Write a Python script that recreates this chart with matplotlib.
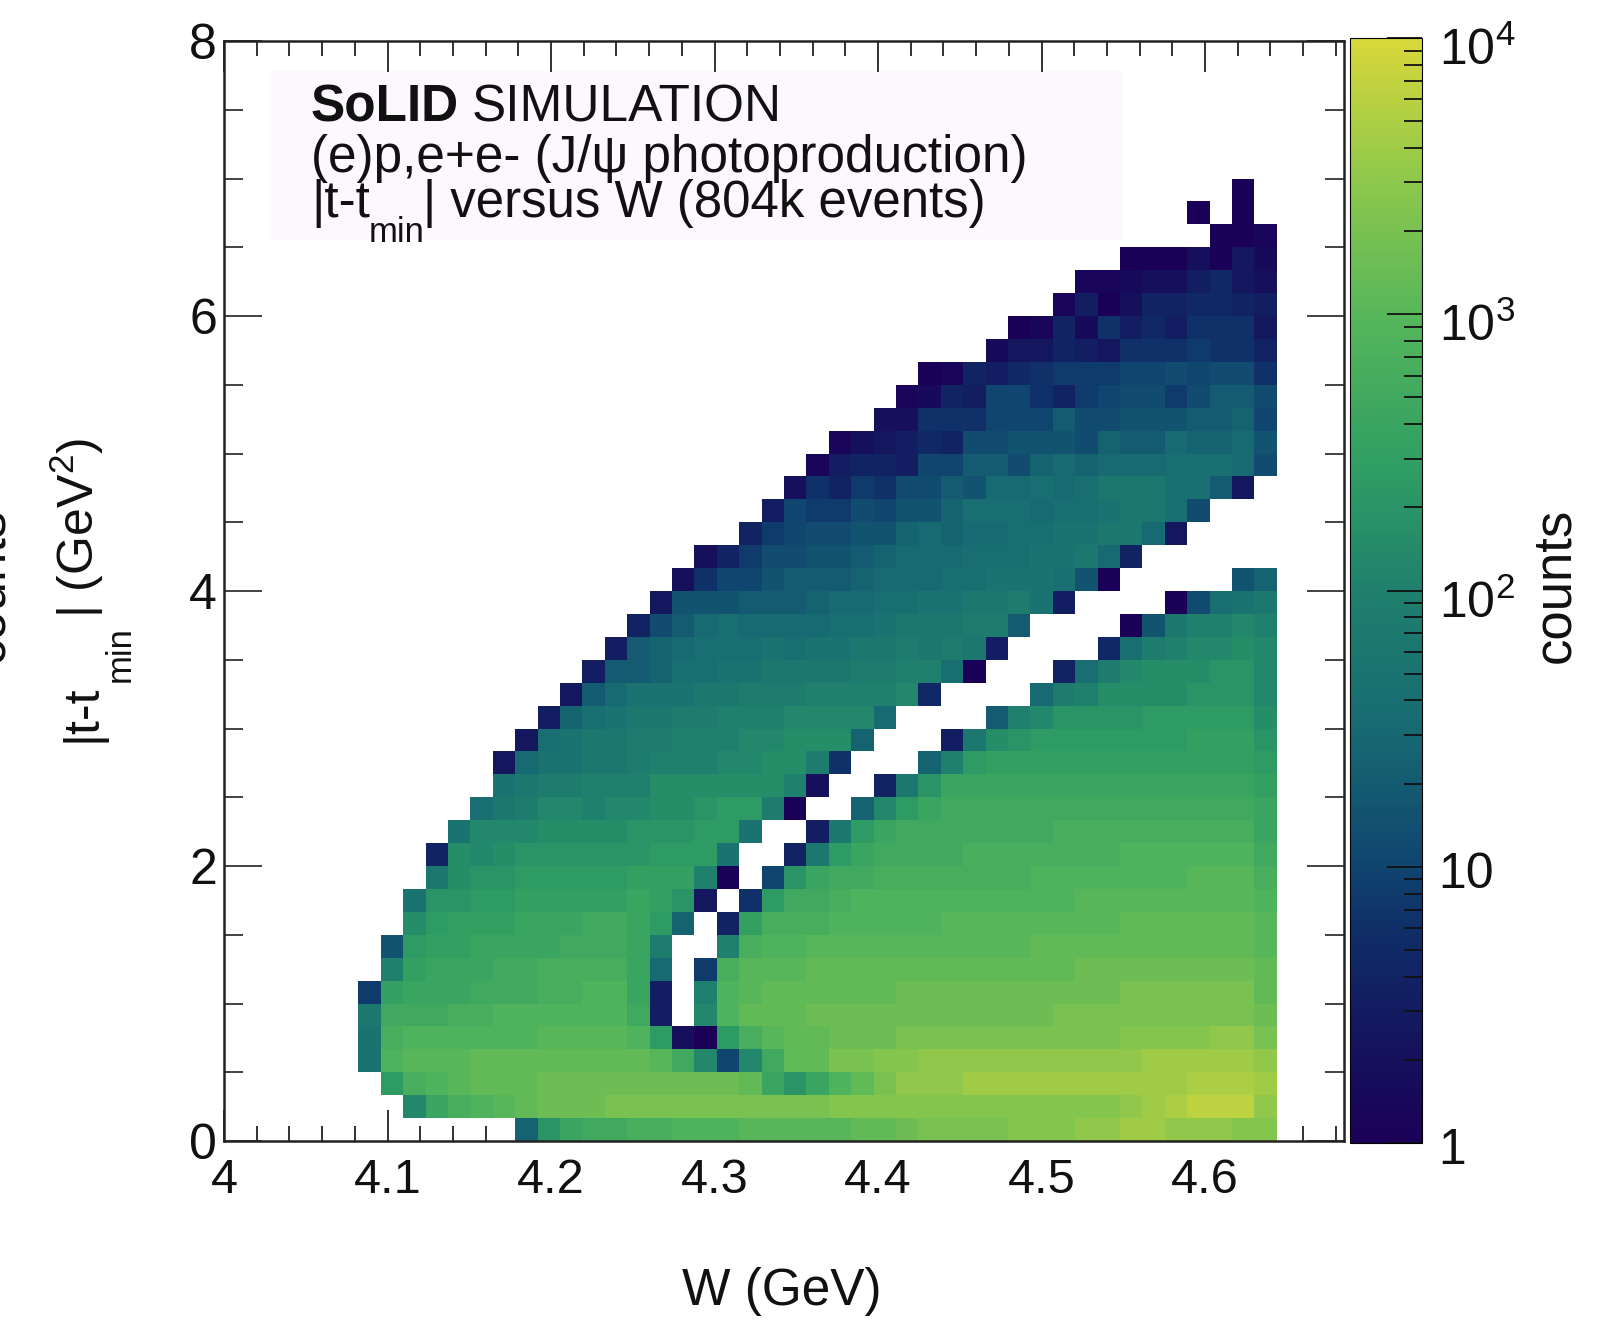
import numpy as np
import matplotlib
matplotlib.use("Agg")
import matplotlib.pyplot as plt
from matplotlib.colors import LinearSegmentedColormap, LogNorm
from matplotlib.patches import Rectangle
from matplotlib.ticker import FixedLocator, NullFormatter
from matplotlib.transforms import ScaledTranslation

plt.rcParams["font.family"] = ["Liberation Sans", "DejaVu Sans"]
plt.rcParams["mathtext.fontset"] = "custom"
plt.rcParams["mathtext.rm"] = "Liberation Sans"
plt.rcParams["mathtext.default"] = "regular"

# histogram binning
w_edges_start = 4.0
w_bin = 0.0137
n_w_bins = 50
t_bin = 8.0 / 48
n_t_bins = 48

# colour bar
bar_ticks = [1, 10, 100, 1000, 10000]
bar_labels = ["1", "10", "$10^{2}$", "$10^{3}$", "$10^{4}$"]

# cell contents, as 10*log10(counts)
# row number: list of (first W bin, values going right)
cells = {
    41: [(45, [0])],
    40: [(43, [0]), (45, [0])],
    39: [(44, [0, 0, 1])],
    38: [(40, [0, 0, 0, 3, 0, 4, 2])],
    37: [(38, [1, 1, 2, 3, 3, 5, 7, 4, 3])],
    36: [(37, [1, 5, 0, 3, 6, 6, 7, 7, 6, 5])],
    35: [(35, [0, 1, 6, 2, 8, 5, 7, 5, 8, 8, 8, 4])],
    34: [(34, [2, 4, 4, 6, 5, 4, 8, 8, 8, 9, 8, 8, 6])],
    33: [(31, [0, 1, 6, 5, 7, 8, 9, 9, 9, 10, 10, 11, 10, 11, 11, 8])],
    32: [(30, [1, 2, 6, 5, 10, 10, 8, 6, 9, 10, 11, 11, 9, 11, 13, 13, 11])],
    31: [(29, [3, 3, 8, 8, 8, 10, 10, 10, 13, 11, 11, 12, 12, 12, 13, 13, 14, 10])],
    30: [(27, [1, 3, 4, 5, 7, 6, 11, 11, 12, 12, 12, 11, 14, 13, 13, 15, 14, 14, 15, 12])],
    29: [(26, [1, 5, 6, 6, 5, 10, 10, 13, 13, 11, 14, 15, 14, 15, 15, 15, 16, 16, 16, 15, 11])],
    28: [(25, [3, 8, 6, 9, 8, 11, 11, 13, 12, 15, 15, 16, 15, 16, 18, 18, 18, 16, 16, 13, 4])],
    27: [(24, [5, 10, 9, 9, 11, 10, 12, 12, 14, 16, 16, 16, 15, 16, 16, 17, 18, 18, 16, 11])],
    26: [(23, [6, 9, 10, 11, 11, 12, 12, 14, 15, 14, 15, 15, 16, 16, 17, 17, 18, 18, 15, 4])],
    25: [(21, [3, 6, 9, 11, 11, 12, 12, 13, 14, 15, 15, 15, 16, 16, 16, 17, 17, 18, 15, 6])],
    24: [(20, [3, 8, 10, 10, 12, 13, 13, 13, 14, 15, 15, 15, 16, 16, 17, 17, 17, 16, 12, 0]),
         (45, [12, 14])],
    23: [(19, [4, 12, 12, 12, 13, 13, 13, 14, 15, 15, 16, 16, 17, 17, 18, 18, 19, 17, 5]),
         (42, [0, 11, 16, 17, 18])],
    22: [(18, [6, 11, 13, 15, 16, 15, 15, 15, 15, 16, 16, 17, 18, 18, 18, 19, 19, 13]),
         (40, [0, 12, 18, 20, 20, 21, 20])],
    21: [(17, [5, 13, 14, 15, 16, 16, 16, 17, 16, 17, 17, 18, 18, 19, 18, 19, 18, 5]),
         (39, [7, 16, 19, 20, 21, 21, 22, 21])],
    20: [(16, [5, 13, 13, 14, 16, 16, 17, 17, 18, 18, 18, 18, 19, 19, 20, 20, 16, 0]),
         (37, [6, 16, 19, 21, 22, 22, 22, 23, 23, 21])],
    19: [(15, [4, 13, 15, 17, 17, 17, 18, 18, 19, 19, 19, 20, 20, 20, 20, 21, 7]),
         (36, [15, 19, 20, 22, 22, 22, 22, 23, 23, 23, 21])],
    18: [(14, [5, 14, 16, 17, 18, 18, 19, 19, 20, 20, 20, 21, 21, 21, 21, 15]),
         (34, [13, 20, 21, 23, 23, 23, 23, 24, 24, 24, 24, 24, 22])],
    17: [(13, [4, 16, 17, 18, 18, 19, 19, 20, 20, 20, 21, 21, 22, 22, 22, 14]),
         (32, [5, 18, 22, 23, 24, 24, 24, 24, 24, 24, 24, 25, 25, 25, 23])],
    16: [(12, [4, 15, 17, 17, 18, 18, 19, 20, 20, 20, 21, 21, 22, 22, 19, 8]),
         (31, [14, 20, 24, 25, 25, 25, 25, 25, 25, 25, 25, 25, 25, 25, 25, 24])],
    15: [(12, [17, 18, 19, 19, 20, 20, 20, 22, 22, 22, 22, 22, 22, 20, 3]),
         (29, [6, 18, 23, 26, 26, 26, 26, 26, 26, 26, 26, 26, 26, 26, 26, 26, 26, 25])],
    14: [(11, [16, 18, 19, 21, 21, 20, 21, 21, 22, 22, 23, 24, 24, 19, 0]),
         (28, [14, 21, 24, 26, 27, 27, 27, 27, 27, 27, 27, 27, 27, 27, 27, 27, 27, 27, 26])],
    13: [(10, [17, 21, 21, 21, 22, 22, 22, 22, 23, 23, 23, 24, 24, 17]),
         (26, [5, 18, 24, 26, 27, 27, 27, 27, 27, 27, 27, 28, 28, 28, 28, 28, 28, 28, 28, 28, 26])],
    12: [(9, [6, 22, 21, 22, 23, 23, 23, 23, 23, 23, 24, 24, 24, 17]),
         (25, [6, 18, 24, 26, 27, 27, 27, 27, 28, 28, 28, 28, 28, 28, 28, 29, 29, 29, 29, 29, 29, 27])],
    11: [(9, [18, 22, 23, 23, 24, 24, 24, 24, 24, 25, 25, 25, 20, 0]),
         (24, [10, 23, 26, 27, 27, 28, 28, 28, 28, 28, 28, 28, 29, 29, 29, 29, 29, 29, 29, 30, 30, 30, 28])],
    10: [(8, [17, 23, 23, 24, 24, 25, 25, 25, 25, 25, 26, 25, 23, 4]),
         (23, [8, 24, 27, 27, 28, 29, 29, 29, 29, 29, 29, 29, 29, 29, 29, 30, 30, 30, 30, 30, 30, 30, 30, 29])],
    9: [(8, [22, 24, 25, 25, 25, 26, 26, 26, 27, 27, 26, 24, 14]),
        (22, [6, 25, 28, 28, 28, 29, 29, 29, 29, 29, 30, 30, 30, 30, 30, 30, 30, 30, 31, 31, 31, 31, 31, 31, 30])],
    8: [(7, [12, 24, 25, 25, 26, 26, 26, 26, 27, 27, 27, 26, 19]),
        (22, [20, 28, 29, 29, 30, 30, 30, 30, 30, 30, 30, 30, 30, 30, 31, 31, 31, 31, 31, 31, 31, 31, 31, 31, 30])],
    7: [(7, [20, 25, 26, 26, 26, 27, 27, 28, 28, 28, 28, 26, 15]),
        (21, [9, 28, 30, 30, 30, 31, 31, 31, 31, 31, 31, 31, 31, 31, 31, 31, 31, 32, 32, 32, 32, 32, 32, 32, 32, 31])],
    6: [(6, [9, 25, 26, 26, 26, 27, 27, 27, 28, 28, 29, 29, 26, 5]),
        (21, [20, 29, 30, 31, 31, 31, 31, 31, 31, 32, 32, 32, 32, 32, 32, 32, 32, 32, 32, 33, 33, 33, 33, 33, 33, 31])],
    5: [(6, [18, 27, 27, 27, 28, 28, 29, 29, 29, 29, 29, 29, 27, 5]),
        (21, [21, 29, 31, 31, 31, 32, 32, 32, 32, 32, 32, 32, 32, 32, 32, 32, 33, 33, 33, 33, 33, 33, 33, 33, 33, 32])],
    4: [(6, [17, 28, 29, 29, 29, 29, 29, 29, 30, 30, 30, 30, 29, 24, 3, 0, 24, 28, 30, 31, 31, 32, 32,
             32, 33, 33, 33, 33, 33, 33, 33, 33, 33, 33, 34, 34, 34, 34, 35, 35, 33])],
    3: [(6, [17, 29, 30, 30, 30, 31, 31, 31, 31, 31, 31, 31, 31, 30, 27, 21, 10, 21, 27, 31, 31, 33, 33,
             34, 34, 35, 35, 35, 35, 35, 35, 35, 35, 35, 35, 36, 36, 36, 36, 36, 35])],
    2: [(7, [24, 28, 29, 30, 31, 31, 31, 32, 32, 32, 32, 32, 32, 32, 32, 32, 31, 26, 23, 26, 29, 31, 33,
             35, 35, 35, 36, 36, 36, 36, 36, 36, 36, 36, 36, 36, 37, 37, 37, 36])],
    1: [(8, [21, 26, 28, 29, 30, 31, 32, 32, 32, 33, 33, 33, 33, 33, 33, 33, 33, 33, 33, 34, 34, 34, 34,
             34, 34, 34, 34, 34, 34, 34, 34, 34, 35, 36, 37, 38, 38, 38, 35])],
    0: [(13, [14, 23, 26, 27, 27, 28, 28, 29, 29, 29, 30, 30, 30, 30, 30, 31, 31, 32, 33, 33, 33, 33,
              34, 34, 34, 35, 35, 36, 36, 35, 35, 35, 34, 34])],
}

grid = np.full((n_t_bins, n_w_bins), np.nan)
for row, segments in cells.items():
    for first, values in segments:
        for i, v in enumerate(values):
            grid[row, first + i] = 10 ** (v / 10)

cmap = LinearSegmentedColormap.from_list("solid", [
    (0.00, "#1b0057"), (0.10, "#14165e"), (0.20, "#0f3069"), (0.25, "#0f456f"),
    (0.375, "#176a72"), (0.50, "#1f806d"), (0.625, "#32a062"), (0.75, "#56b65a"),
    (0.875, "#8fc84b"), (1.00, "#d8d83a")])
cmap.set_bad((1, 1, 1, 0))
norm = LogNorm(1, 10000)

W, H = 1608, 1322
fig = plt.figure(figsize=(W / 100, H / 100), dpi=100)


def px_box(x0, y0, x1, y1):
    return [x0 / W, 1 - y1 / H, (x1 - x0) / W, (y1 - y0) / H]


def label(x, y, s, **kw):
    fig.text(x / W, 1 - y / H, s, color="#111111", **kw)


ax = fig.add_axes(px_box(224, 41, 1344, 1141))
w_edges = w_edges_start + w_bin * np.arange(n_w_bins + 1)
t_edges = t_bin * np.arange(n_t_bins + 1)
ax.add_patch(Rectangle((4.029, 6.55), 0.521, 1.23, color="#fdf7fe", zorder=1, linewidth=0))
mesh = ax.pcolormesh(w_edges, t_edges, np.ma.masked_invalid(grid), cmap=cmap, norm=norm, linewidth=0, zorder=2)
ax.set_xlim(w_edges[0], w_edges[-1])
ax.set_ylim(0, 8)

ax.set_xticks(np.arange(4.0, 4.61, 0.1))
ax.set_xticks(np.arange(4.0, 4.69, 0.02), minor=True)
ax.set_yticks([0, 2, 4, 6, 8])
ax.set_yticks(np.arange(0, 8.1, 0.5), minor=True)
ax.set_xticklabels(["4", "4.1", "4.2", "4.3", "4.4", "4.5", "4.6"])
ax.tick_params(axis="x", which="major", direction="in", top=True, length=22, width=1.3, color="#222222",
               labelsize=35, pad=12, labelcolor="#111111")
ax.tick_params(axis="x", which="minor", direction="in", top=True, length=11, width=1.3, color="#222222")
ax.tick_params(axis="y", which="major", direction="in", right=True, length=27, width=1.3, color="#333333",
               labelsize=36, pad=5, labelcolor="#111111")
ax.tick_params(axis="y", which="minor", direction="in", right=True, length=14, width=1.3, color="#333333")
for s in ax.spines.values():
    s.set_linewidth(1.8)
    s.set_color("#222222")

cax = fig.add_axes(px_box(1350, 38, 1422, 1143))
cb = fig.colorbar(mesh, cax=cax)
cb.outline.set_linewidth(0.8)
cb.set_ticks(bar_ticks)
cb.set_ticklabels(bar_labels)
minor = [m * 10 ** e for e in range(4) for m in range(2, 10)]
cax.yaxis.set_minor_locator(FixedLocator(minor))
cax.yaxis.set_minor_formatter(NullFormatter())
cax.tick_params(which="major", direction="in", length=25, width=1.3, labelsize=36, pad=12, color="#111111",
                labelcolor="#111111")
cax.tick_params(which="minor", direction="in", length=13, width=1.3, color="#111111")
# labels with a superscript sit a bit lower than the default
for lbl in cax.get_yticklabels():
    shift = -0.08 if "^" in lbl.get_text() else -0.03
    lbl.set_transform(lbl.get_transform() + ScaledTranslation(0, shift, fig.dpi_scale_trans))

# axis titles
label(782, 1292, "W (GeV)", fontsize=37, ha="center", va="center")
label(106, 742, "|t-t", fontsize=36, rotation=90, ha="right", va="bottom")
label(137, 682, "min", fontsize=25, rotation=90, ha="right", va="bottom")
label(106, 618, "| (GeV$^{2}$)", fontsize=36, rotation=90, ha="right", va="bottom")
label(1580, 585, "counts", fontsize=38, rotation=90, ha="right", va="center")
label(14, 585, "counts", fontsize=38, rotation=90, ha="right", va="center")

# text block
label(311, 122, "SoLID", fontsize=37, fontweight="bold", va="baseline")
label(472, 122, "SIMULATION", fontsize=37, va="baseline")
label(311, 172, "(e)p,e+e- (J/ψ photoproduction)", fontsize=37, va="baseline")
label(311, 217, "|t-t", fontsize=37, va="baseline")
label(369, 242, "min", fontsize=25, va="baseline")
label(423, 217, "| versus W (804k events)", fontsize=36.7, va="baseline")

fig.savefig("out.png", dpi=100)
